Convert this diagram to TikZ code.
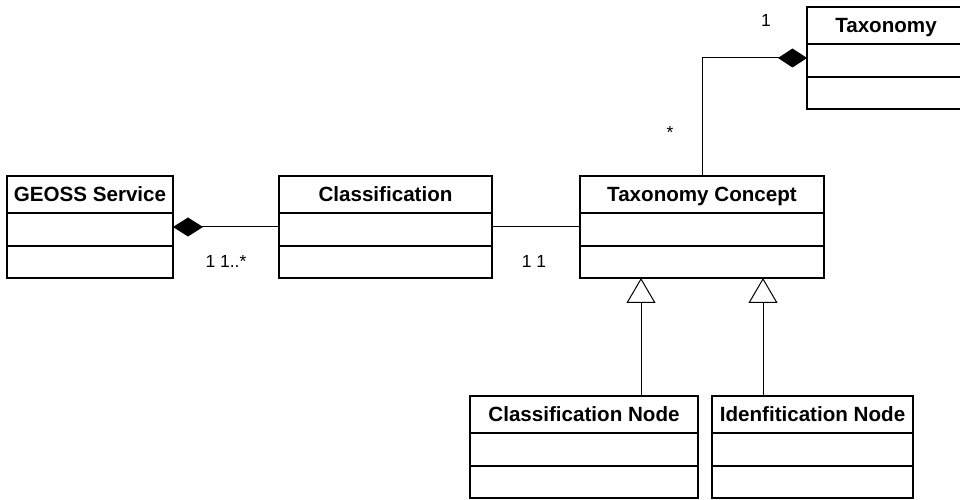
\documentclass[tikz,border=0pt]{standalone}
\usepackage{fontspec}
\setmainfont{Liberation Sans}
\usetikzlibrary{arrows.meta,calc}
\tikzset{epais/.style={line width=2pt}}
\newcommand{\titre}[0]{\fontsize{20.6}{24}\selectfont\bfseries}
\newcommand{\petit}[0]{\fontsize{17.5}{20}\selectfont}
\newcommand{\classe}[5]{\node[draw,epais,anchor=north west,minimum width=#4pt,
 	minimum height=102pt,inner sep=0pt,outer sep=0pt] (#1) at (#2,#3) {};
 	\node[font=\titre,anchor=base,inner sep=0pt] (#1t) at ($(#1.north)+(0,-26)$) {#5};
 	\draw[epais] ($(#1.north west)+(0,-37)$) -- ($(#1.north east)+(0,-37)$);
 	\draw[epais] ($(#1.north west)+(0,-70)$) -- ($(#1.north east)+(0,-70)$)}
\newcommand{\mult}[4]{\node[font=\petit,anchor=base,inner sep=0pt] (#1) at (#2,#3) {#4}}

\begin{document}
\begin{tikzpicture}[x=1pt,y=1pt,line width=1pt]
	\clip (0,0) rectangle (960,500);
	\classe{geoss}{7}{324}{166}{GEOSS Service};
	\classe{classif}{279}{324}{213}{Classification};
	\classe{concept}{580}{324}{244}{Taxonomy Concept};
	\classe{taxo}{807}{493}{158}{Taxonomy};
	\classe{cnode}{470}{104}{228}{Classification Node};
	\classe{inode}{712}{104}{201}{Idenfitication Node};
	\draw[{Diamond[length=30pt,width=19pt]}-] (geoss.east) -- (classif.west);
	\draw (classif.east) -- (concept.west);
	\draw[-{Diamond[length=29pt,width=19pt]}] (concept.north) |- (taxo.west);
	\coordinate (g1) at ($(concept.south)!0.5!(concept.south west)$);
	\coordinate (g2) at ($(concept.south)!0.5!(concept.south east)$);
	\draw[-{Triangle[open,length=25pt,width=29pt]}] (cnode.north -| g1) -- (g1);
	\draw[-{Triangle[open,length=25pt,width=29pt]}] (inode.north -| g2) -- (g2);
	\mult{m1}{226}{232}{1 1..*};
	\mult{m2}{534}{232}{1 1};
	\mult{m3}{766}{473}{1};
	\mult{m4}{670}{361}{*};
\end{tikzpicture}
\end{document}
